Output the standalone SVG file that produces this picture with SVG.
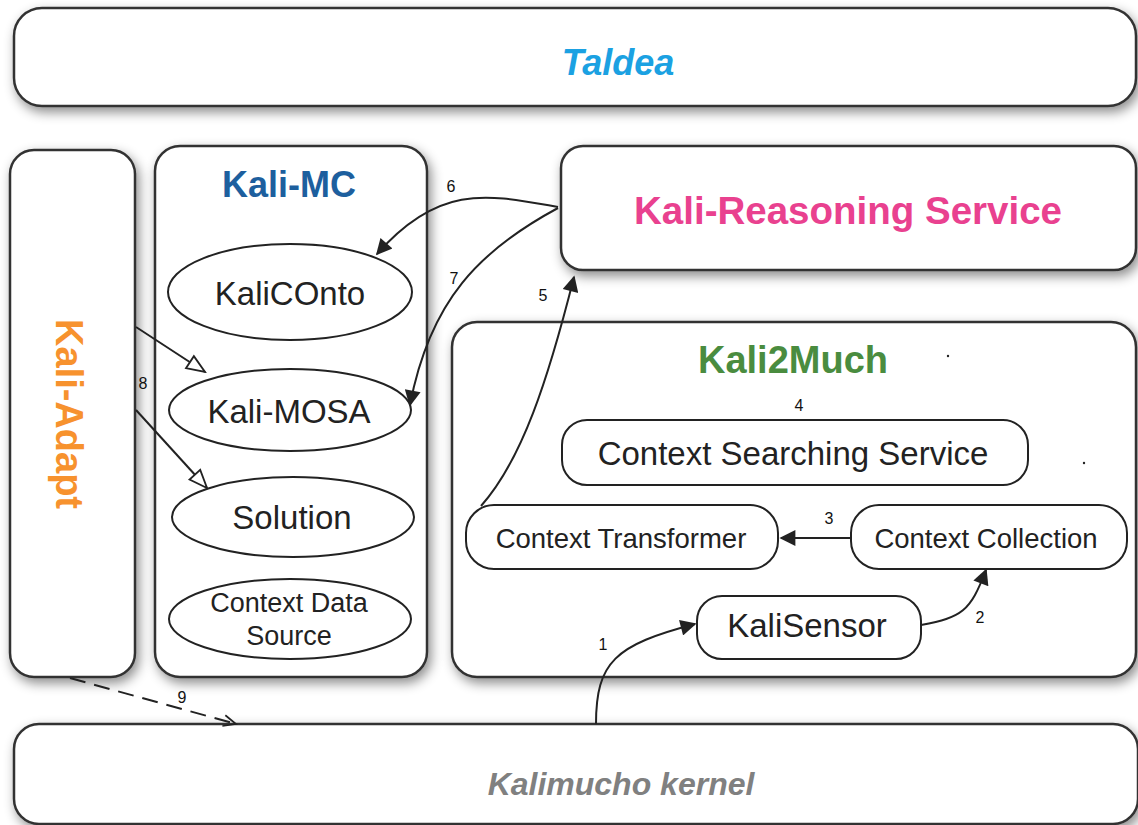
<svg xmlns="http://www.w3.org/2000/svg" width="1138" height="825" viewBox="0 0 1138 825">
<defs>
<filter id="sh" x="-10%" y="-10%" width="130%" height="130%">
<feDropShadow dx="3" dy="5" stdDeviation="6" flood-color="#000" flood-opacity="0.45"/>
</filter>
<marker id="ahb" viewBox="0 0 10 10" refX="9" refY="5" markerWidth="20" markerHeight="16" orient="auto" markerUnits="userSpaceOnUse">
<path d="M0,0 L10,5 L0,10 z" fill="#222"/>
</marker>
<marker id="hol" viewBox="0 0 12 10" refX="11" refY="5" markerWidth="22" markerHeight="18" orient="auto" markerUnits="userSpaceOnUse">
<path d="M1,1 L11,5 L1,9 z" fill="#fff" stroke="#222" stroke-width="1"/>
</marker>
<marker id="opn" viewBox="0 0 10 10" refX="9" refY="5" markerWidth="16" markerHeight="14" orient="auto" markerUnits="userSpaceOnUse">
<path d="M0,1 L9,5 L0,9" fill="none" stroke="#222" stroke-width="1.2"/>
</marker>
</defs>
<style>
.box{fill:#fff;stroke:#333;stroke-width:2.5;filter:url(#sh)}
.ell{fill:#fff;stroke:#222;stroke-width:2}
.t{font-family:"Liberation Sans",Arial,sans-serif;fill:#222;text-anchor:middle}
.title{font-family:"Liberation Sans",Arial,sans-serif;font-weight:bold;text-anchor:middle}
.lbl{font-family:"Liberation Sans Narrow","Liberation Sans",Arial,sans-serif;font-size:16px;fill:#111;text-anchor:middle}
.c{fill:none;stroke:#222;stroke-width:2}
</style>
<rect width="1138" height="825" fill="#fff"/>

<g id="taldea">
<rect class="box" x="14" y="8" width="1122" height="98" rx="28"/>
<text class="title" x="618" y="75" font-size="36" font-style="italic" fill="#1ba1e2">Taldea</text>
</g>

<g id="kali-adapt">
<rect class="box" x="10" y="150" width="125" height="527" rx="24"/>
<text class="title" transform="translate(56,414) rotate(90)" x="0" y="0" font-size="38" fill="#f7922e">Kali-Adapt</text>
</g>

<g id="kali-mc">
<rect class="box" x="155" y="146" width="272" height="531" rx="25"/>
<text class="title" x="289" y="197" font-size="36" fill="#1d5f9e">Kali-MC</text>
</g>

<g id="kalionto">
<ellipse class="ell" cx="290" cy="292" rx="122" ry="48"/>
<text class="t" x="290" y="305" font-size="33">KaliCOnto</text>
</g>
<g id="kali-mosa">
<ellipse class="ell" cx="290" cy="410" rx="121" ry="41"/>
<text class="t" x="289" y="423" font-size="33">Kali-MOSA</text>
</g>
<g id="solution">
<ellipse class="ell" cx="293" cy="517" rx="121" ry="40"/>
<text class="t" x="292" y="529" font-size="33">Solution</text>
</g>
<g id="context-data-source">
<ellipse class="ell" cx="290" cy="619" rx="121" ry="40"/>
<text class="t" x="289" y="612" font-size="27">Context Data</text>
<text class="t" x="289" y="645" font-size="27">Source</text>
</g>

<g id="kali-reasoning">
<rect class="box" x="561" y="146" width="575" height="124" rx="22"/>
<text class="title" x="848" y="224" font-size="38.5" fill="#e9418f">Kali-Reasoning Service</text>
</g>

<g id="kali2much">
<rect class="box" x="452" y="322" width="684" height="355" rx="25"/>
<text class="title" x="793" y="373" font-size="38" fill="#4a8c3f">Kali2Much</text>
<circle cx="948" cy="356" r="1.2" fill="#222"/>
<circle cx="1084" cy="463" r="1.2" fill="#222"/>
</g>

<g id="context-searching">
<rect class="ell" x="562" y="420" width="466" height="65" rx="25"/>
<text class="t" x="793" y="465" font-size="33">Context Searching Service</text>
</g>
<g id="context-transformer">
<rect class="ell" x="466" y="505" width="312" height="64" rx="28"/>
<text class="t" x="621" y="548" font-size="27.5">Context Transformer</text>
</g>
<g id="context-collection">
<rect class="ell" x="851" y="505" width="276" height="64" rx="28"/>
<text class="t" x="986" y="548" font-size="27.5">Context Collection</text>
</g>
<g id="kalisensor">
<rect class="ell" x="697" y="596" width="224" height="63" rx="25"/>
<text class="t" x="807" y="637" font-size="33">KaliSensor</text>
</g>

<g id="kernel">
<rect class="box" x="14" y="724" width="1124" height="100" rx="25"/>
<text class="title" x="621" y="795" font-size="32" font-style="italic" fill="#808080">Kalimucho kernel</text>
</g>

<g id="connectors">
<path class="c" d="M596,724 C596,662 615,645 695,624" marker-end="url(#ahb)"/>
<text class="lbl" x="603" y="650">1</text>
<path class="c" d="M921,625 C962,617 970,612 986,570" marker-end="url(#ahb)"/>
<text class="lbl" x="980" y="623">2</text>
<path class="c" d="M851,538 L781,538" marker-end="url(#ahb)"/>
<text class="lbl" x="829" y="524">3</text>
<text class="lbl" x="799" y="411">4</text>
<path class="c" d="M481,506 C522,460 548,380 574,277" marker-end="url(#ahb)"/>
<text class="lbl" x="543" y="301">5</text>
<path class="c" d="M558,207 C490,195 440,182 377,254" marker-end="url(#ahb)"/>
<text class="lbl" x="451" y="192">6</text>
<path class="c" d="M558,208 C480,250 430,300 410,405" marker-end="url(#ahb)"/>
<text class="lbl" x="454" y="284">7</text>
<path class="c" d="M136,327 L205,372" marker-end="url(#hol)"/>
<path class="c" d="M136,410 L207,488" marker-end="url(#hol)"/>
<text class="lbl" x="143" y="389">8</text>
<path class="c" d="M70,678 L236,724" stroke-dasharray="16,9" marker-end="url(#opn)"/>
<text class="lbl" x="182" y="703">9</text>
</g>
</svg>
